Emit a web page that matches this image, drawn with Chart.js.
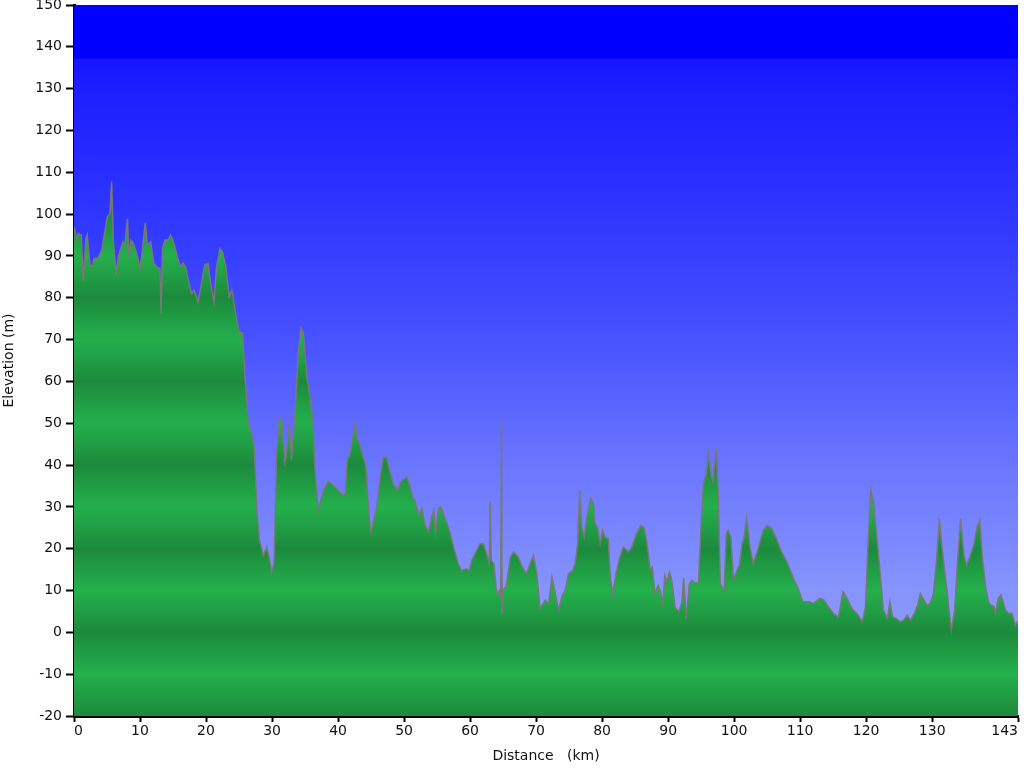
<!DOCTYPE html>
<html>
<head>
<meta charset="utf-8">
<title>Elevation profile</title>
<script src="https://cdn.jsdelivr.net/npm/chart.js@4.4.1/dist/chart.umd.min.js"></script>
<style>
    html, body { margin: 0; padding: 0; background: #fff; }
    #wrap { width: 1024px; height: 768px; }
</style>
</head>
<body>
<div id="wrap"><canvas id="elevationChart" width="1024" height="768"></canvas></div>
<script>
// Profile, distance in km and elevation in m
const distanceKm = [
    0, 0.4, 0.65, 0.9, 1.1, 1.4, 1.8, 2.0, 2.4, 2.8, 3.0, 3.6, 4.2, 4.7, 5.05, 5.45, 5.7, 5.95, 6.4, 6.7,
    7.4, 7.7, 8.1, 8.3, 8.6, 9.0, 9.5, 10.0, 10.4, 10.8, 11.1, 11.6, 12.1, 12.5, 13.0, 13.2, 13.4, 13.8, 14.3, 14.6,
    15.0, 15.65, 16.1, 16.5, 16.9, 17.3, 17.8, 18.2, 18.8, 19.3, 19.8, 20.3, 20.7, 21.2, 21.6, 22.1, 22.5, 23.0, 23.5, 23.9,
    24.1, 24.65, 25.05, 25.55, 25.9, 26.4, 26.9, 27.3, 27.7, 28.1, 28.7, 29.2, 29.6, 29.95, 30.3, 30.7, 31.1, 31.45, 31.95, 32.2,
    32.6, 32.95, 33.5, 34.0, 34.4, 34.75, 35.25, 35.75, 36.2, 36.5, 37.0, 37.8, 38.5, 39.5, 40.0, 40.7, 41.1, 41.4, 41.7, 42.1,
    42.6, 42.9, 43.4, 43.8, 44.2, 44.6, 44.95, 45.25, 45.85, 46.4, 46.8, 47.3, 47.8, 48.4, 49.0, 49.5, 50.4, 50.9, 51.3, 51.7,
    52.2, 52.7, 53.2, 53.7, 54.2, 54.5, 54.8, 55.2, 55.55, 56.2, 57.0, 57.5, 58.2, 58.7, 59.5, 59.9, 60.25, 60.75, 61.5, 62.0,
    62.5, 62.9, 63.05, 63.2, 63.6, 63.95, 64.1, 64.45, 64.65, 64.75, 64.85, 65.05, 65.45, 66.1, 66.6, 67.3, 67.8, 68.5, 69.1, 69.6,
    70.1, 70.6, 71.4, 71.9, 72.4, 72.9, 73.4, 73.9, 74.4, 74.9, 75.55, 75.9, 76.3, 76.6, 76.9, 77.3, 77.6, 77.9, 78.3, 78.7,
    78.9, 79.3, 79.7, 80.05, 80.45, 80.95, 81.2, 81.6, 82.1, 82.7, 83.2, 83.5, 84.0, 84.5, 85.2, 85.9, 86.4, 86.8, 87.3, 87.6,
    88.0, 88.5, 88.8, 89.2, 89.5, 89.8, 90.2, 90.55, 91.05, 91.6, 92.1, 92.35, 92.75, 93.2, 93.6, 94.1, 94.6, 94.95, 95.35, 95.8,
    96.1, 96.5, 96.8, 97.3, 97.6, 97.9, 98.5, 98.8, 99.1, 99.5, 99.9, 100.4, 100.8, 101.2, 101.5, 101.9, 102.4, 102.9, 103.7, 104.4,
    105.05, 105.7, 106.5, 107.2, 108.0, 109.0, 109.7, 110.4, 111.3, 112.0, 113.0, 113.6, 114.3, 115.05, 115.8, 116.5, 117.1, 117.7, 118.3, 118.8,
    119.4, 119.9, 120.35, 120.7, 121.1, 121.3, 121.7, 122.0, 122.6, 123.2, 123.6, 124.0, 124.6, 125.2, 125.7, 126.2, 126.7, 127.3, 127.8, 128.2,
    128.6, 129.2, 129.7, 130.2, 130.7, 131.1, 131.5, 132.2, 132.9, 133.4, 133.8, 134.3, 134.8, 135.2, 135.7, 136.3, 136.8, 137.2, 137.6, 138.1,
    138.6, 139.4, 139.6, 140.0, 140.4, 140.8, 141.1, 141.6, 142.1, 142.6, 142.85, 143.0
];
const elevationM = [
    97, 94, 95.4, 95, 95, 84, 94, 95, 88, 87.4, 89.4, 89.4, 91.4, 96, 99.4, 100, 107.8, 94, 85.4, 89.8,
    93.4, 92.6, 98.9, 89.8, 93.8, 93, 90.6, 87, 92, 98, 92.6, 93.4, 88.2, 87.4, 87, 76.3, 92, 93.8, 93.8, 95,
    93.8, 89.8, 87.4, 88.3, 87.4, 84.2, 81, 81.8, 79, 83.4, 87.8, 88.2, 83.4, 79, 87.4, 91.8, 91, 87.4, 80.2, 81.8,
    80.2, 74.6, 71.8, 71.5, 61, 50, 47.6, 44.3, 29.2, 22, 18.4, 20.4, 17.7, 14.4, 16.5, 42.8, 50.7, 51.4, 40.7, 42.8,
    50, 41.1, 53, 67.4, 72.7, 71.5, 61.5, 56.3, 50.7, 38.8, 29.2, 34, 36.2, 34.8, 34, 32.8, 33.2, 41.6, 42, 45.5,
    50.3, 46.4, 44.3, 42, 40, 30, 24, 25.6, 30, 37.2, 41.6, 42, 38.8, 35.2, 34, 36, 37.2, 34.8, 32.4, 31.2,
    28, 29.7, 25.6, 24, 27.6, 29.2, 24, 29.7, 30, 27.3, 23.7, 20.4, 16.4, 14.8, 15.2, 14.7, 17.2, 18.8, 21.2, 21.2,
    18.8, 16.4, 31.2, 17.2, 16.4, 10.4, 9.2, 10, 7.7, 51.1, 4.5, 10.4, 10.8, 18, 19.2, 18, 16, 14, 16.4, 18.4,
    14, 5.7, 7.7, 6.9, 13.2, 9.3, 5.3, 8.5, 10, 14, 14.8, 16.4, 21.2, 34, 25.2, 22.8, 26.8, 29.2, 32, 30.8,
    26, 25.2, 21.2, 24.4, 22.8, 22.4, 14, 8.9, 14, 18, 20.4, 20, 19.2, 20.4, 23.6, 25.6, 24.8, 21.2, 14.8, 15.6,
    9.3, 11.2, 10, 6.9, 13.6, 12, 14.4, 12.4, 6, 4.9, 7.2, 13, 3.3, 11.5, 12.4, 11.7, 11.9, 24.4, 35.6, 38,
    42.8, 38, 36, 44, 32.4, 11.7, 10, 23.6, 24.4, 22.8, 12.4, 14.8, 16, 21.2, 22.8, 27.2, 20.4, 16.4, 20.4, 24.4,
    25.6, 24.8, 22, 19.2, 16.8, 12.8, 10.4, 7.4, 7.3, 6.9, 8.1, 7.7, 6.1, 4.5, 3.7, 9.7, 8.1, 6.1, 4.9, 4.1,
    2.5, 6, 23.2, 34, 31.2, 27.6, 21.6, 16, 5.3, 3.3, 7.3, 3.7, 3.3, 2.5, 2.9, 4.1, 2.9, 4.5, 6.5, 9.3,
    8.1, 6.5, 6.9, 9.3, 18, 27.2, 20, 10.4, 0.5, 5.3, 16, 27.2, 18.4, 16, 18, 20.8, 25.2, 26.8, 18, 10.8,
    6.9, 6.1, 4.5, 8.1, 8.9, 6.9, 5.3, 4.5, 4.5, 1.7, 2.5, 2.1
];

const xTickValues = [0, 10, 20, 30, 40, 50, 60, 70, 80, 90, 100, 110, 120, 130, 143];
const yMin = -20;
const yMax = 150;
const yStep = 10;

const fontFamily = "'DejaVu Sans', Verdana, sans-serif";

// Blue sky behind the profile, solid at the top then fading lighter
const skyPlugin = {
    id: 'sky',
    beforeDatasetsDraw(chart) {
        const { ctx, chartArea: a, scales: { y } } = chart;
        const h = a.bottom - a.top;
        const pos = v => (y.getPixelForValue(v) - a.top) / h;
        const g = ctx.createLinearGradient(0, a.top, 0, a.bottom);
        g.addColorStop(0, '#0000ff');
        g.addColorStop(pos(137.3), '#0000ff');
        g.addColorStop(pos(137), '#1616ff');
        g.addColorStop(pos(130), '#1c1eff');
        g.addColorStop(pos(100), '#2f36ff');
        g.addColorStop(pos(70), '#4852ff');
        g.addColorStop(pos(40), '#6a76ff');
        g.addColorStop(pos(10), '#8694fb');
        g.addColorStop(1, '#94a4f8');
        ctx.save();
        ctx.fillStyle = g;
        ctx.fillRect(a.left, a.top, a.right - a.left, h);
        ctx.restore();
    }
};

function groundFill(context) {
    const chart = context.chart;
    const a = chart.chartArea;
    if (!a) return '#22a84a';
    const y = chart.scales.y;
    const h = a.bottom - a.top;
    const g = chart.ctx.createLinearGradient(0, a.top, 0, a.bottom);
    for (let v = yMax; v >= yMin; v -= yStep) {
        const p = Math.min(1, Math.max(0, (y.getPixelForValue(v) - a.top) / h));
        g.addColorStop(p, v % 20 === 0 ? '#1c8a3d' : '#24b04c');
    }
    return g;
}

const ctx = document.getElementById('elevationChart').getContext('2d');
new Chart(ctx, {
    type: 'line',
    data: {
        datasets: [{
            label: 'Elevation',
            data: distanceKm.map((d, i) => ({ x: d, y: elevationM[i] })),
            borderColor: '#787878',
            borderWidth: 1.5,
            backgroundColor: groundFill,
            fill: 'start',
            pointRadius: 0,
            tension: 0
        }]
    },
    options: {
        responsive: false,
        animation: false,
        devicePixelRatio: 1,
        layout: { padding: { top: 5, right: 6, left: 0, bottom: 0 } },
        plugins: {
            legend: { display: false },
            tooltip: { enabled: false }
        },
        scales: {
            x: {
                type: 'linear',
                min: 0,
                max: 143,
                z: 1,
                afterBuildTicks: scale => { scale.ticks = xTickValues.map(v => ({ value: v })); },
                afterFit: scale => { scale.height = 52; },
                grid: { drawOnChartArea: false, drawTicks: true, tickLength: 6, tickColor: '#000', tickWidth: 2 },
                border: { color: '#000', width: 3 },
                ticks: {
                    color: '#111',
                    font: { family: fontFamily, size: 14 },
                    padding: 1,
                    autoSkip: false,
                    maxRotation: 0,
                    align: 'inner'
                },
                title: {
                    display: true,
                    text: 'Distance   (km)',
                    color: '#111',
                    font: { family: fontFamily, size: 14 },
                    padding: { top: 0, bottom: 3 }
                }
            },
            y: {
                min: yMin,
                max: yMax,
                z: 1,
                afterFit: scale => {
                    scale.width = 74;
                    scale.paddingTop = 0;
                    scale.paddingBottom = 0;
                },
                grid: { color: 'rgba(0,0,0,0.28)', lineWidth: 1, tickLength: 8, tickColor: '#000', tickWidth: 2 },
                border: { color: '#000', width: 3 },
                ticks: {
                    stepSize: yStep,
                    color: '#111',
                    font: { family: fontFamily, size: 14 },
                    padding: 4
                },
                title: {
                    display: true,
                    text: 'Elevation (m)',
                    color: '#111',
                    font: { family: fontFamily, size: 14 },
                    padding: { top: 1, bottom: 0 }
                }
            }
        }
    },
    plugins: [skyPlugin]
});
</script>
</body>
</html>
